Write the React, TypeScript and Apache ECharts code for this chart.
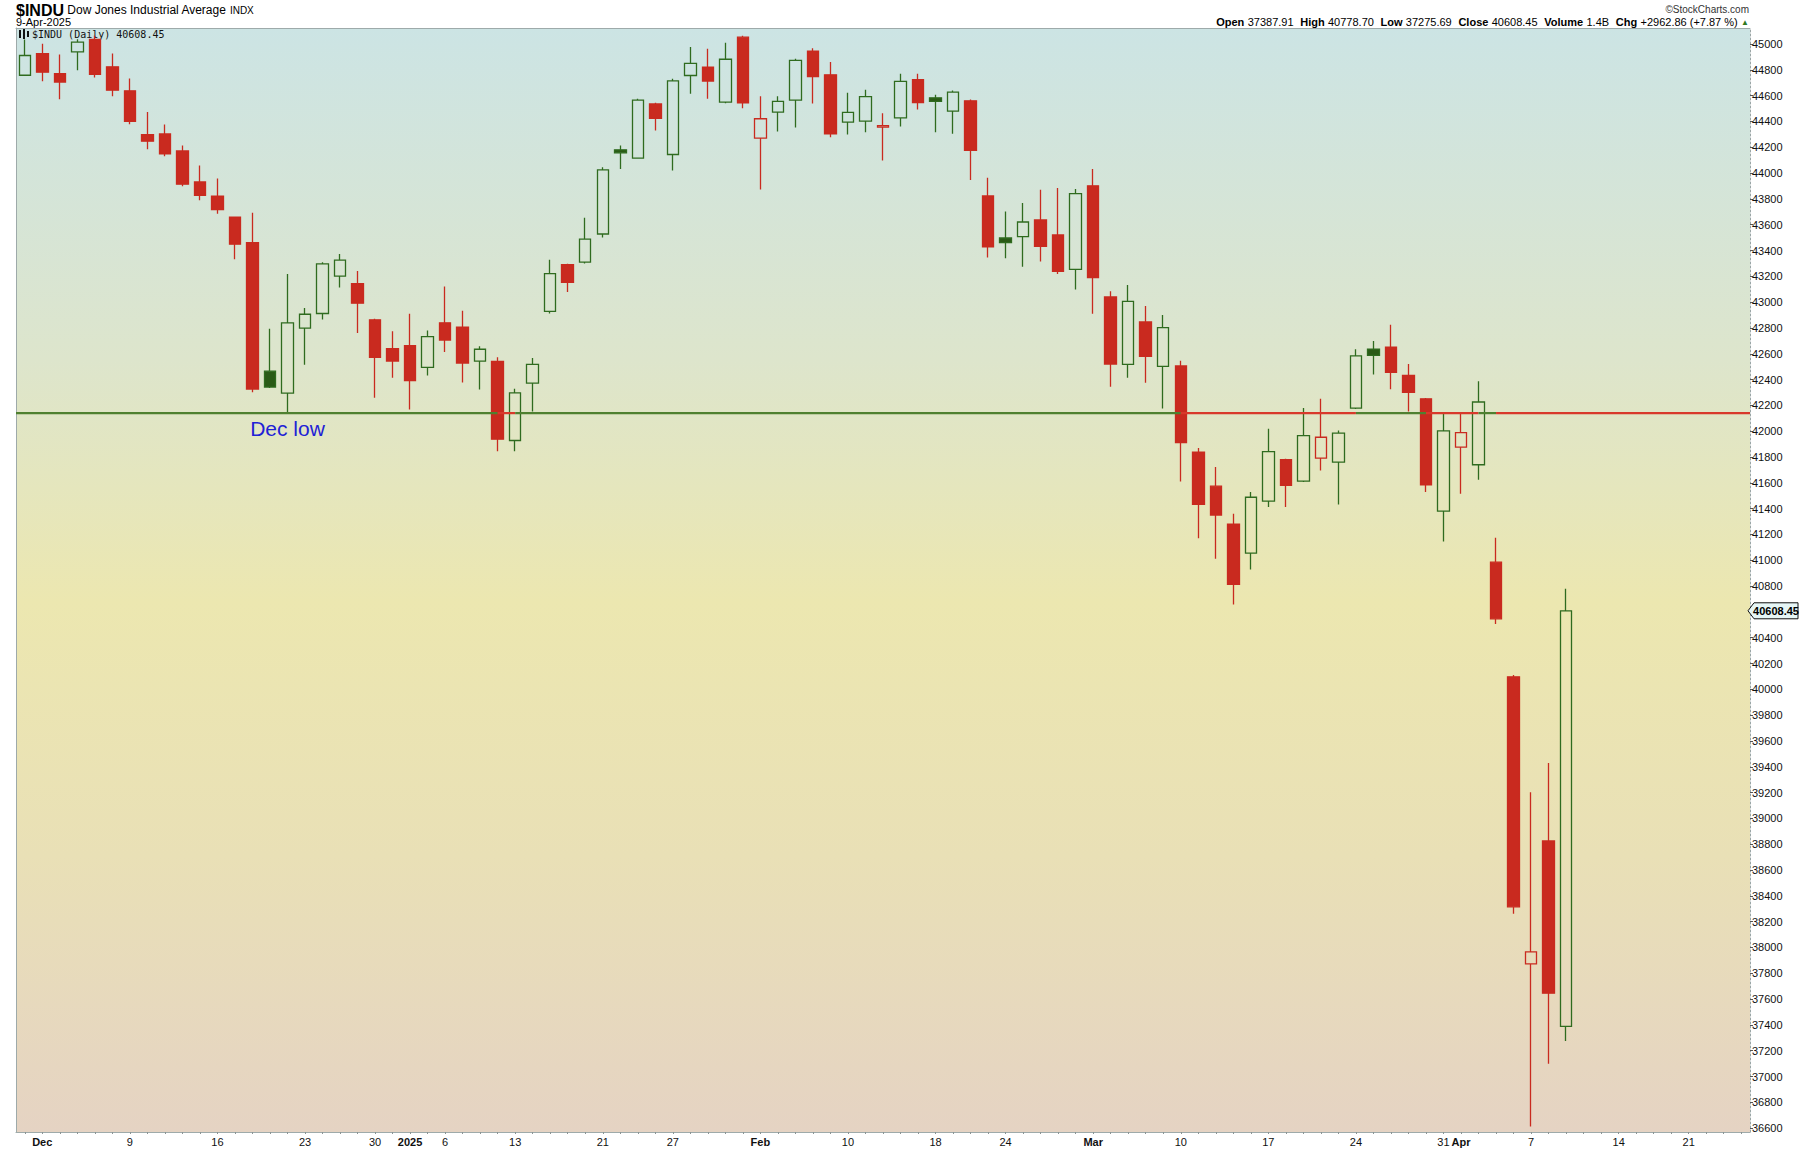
import React, { useEffect, useRef } from "react";
import * as echarts from "echarts";

// ---------- data ----------
const dates = [
  "2024-11-29",
  "2024-12-02","2024-12-03","2024-12-04","2024-12-05","2024-12-06",
  "2024-12-09","2024-12-10","2024-12-11","2024-12-12","2024-12-13",
  "2024-12-16","2024-12-17","2024-12-18","2024-12-19","2024-12-20",
  "2024-12-23","2024-12-24","2024-12-26","2024-12-27",
  "2024-12-30","2024-12-31","2025-01-02","2025-01-03",
  "2025-01-06","2025-01-07","2025-01-08","2025-01-10",
  "2025-01-13","2025-01-14","2025-01-15","2025-01-16","2025-01-17",
  "2025-01-21","2025-01-22","2025-01-23","2025-01-24",
  "2025-01-27","2025-01-28","2025-01-29","2025-01-30","2025-01-31",
  "2025-02-03","2025-02-04","2025-02-05","2025-02-06","2025-02-07",
  "2025-02-10","2025-02-11","2025-02-12","2025-02-13","2025-02-14",
  "2025-02-18","2025-02-19","2025-02-20","2025-02-21",
  "2025-02-24","2025-02-25","2025-02-26","2025-02-27","2025-02-28",
  "2025-03-03","2025-03-04","2025-03-05","2025-03-06","2025-03-07",
  "2025-03-10","2025-03-11","2025-03-12","2025-03-13","2025-03-14",
  "2025-03-17","2025-03-18","2025-03-19","2025-03-20","2025-03-21",
  "2025-03-24","2025-03-25","2025-03-26","2025-03-27","2025-03-28",
  "2025-03-31","2025-04-01","2025-04-02","2025-04-03","2025-04-04",
  "2025-04-07","2025-04-08","2025-04-09",
  "2025-04-10","2025-04-11","2025-04-14","2025-04-15","2025-04-16",
  "2025-04-17","2025-04-21","2025-04-22","2025-04-23","2025-04-24",
];

const opens = [
  44758, 44926, 44771, 44939, 45035, 44823, 44637, 44298, 44303, 44171,
  43931, 43822, 43659, 43461, 42465, 42295, 42799, 42912, 43202, 43143,
  42863, 42639, 42662, 42494, 42840, 42807, 42543, 42541, 41928, 42372,
  42928, 43290, 43310, 43528, 44180, 44115, 44536, 44144, 44756, 44821,
  44549, 45053, 44270, 44472, 44565, 44945, 44761, 44394, 44402, 44356,
  44428, 44723, 44583, 44480, 44560, 43823, 43497, 43508, 43637, 43520,
  43254, 43901, 43040, 42518, 42846, 42502, 42505, 41838, 41574, 41280,
  41055, 41458, 41779, 41613, 41791, 41760, 42179, 42636, 42652, 42432,
  42251, 41381, 41877, 41740, 40985, 40097, 37872, 38825, 37387.91,
];
const highs = [
  45035, 45002, 44918, 45037, 45066, 44926, 44732, 44474, 44376, 44213,
  44058, 43957, 43662, 43693, 42794, 43218, 42954, 43309, 43373, 43241,
  42872, 42775, 42910, 42781, 43122, 42933, 42659, 42572, 42328, 42567,
  43329, 43297, 43654, 44045, 44213, 44575, 44544, 44730, 44976, 44963,
  45009, 45064, 44596, 44596, 44885, 44968, 44860, 44622, 44645, 44464,
  44769, 44769, 44606, 44640, 44570, 43963, 43702, 43769, 43870, 43885,
  43877, 44032, 43084, 43133, 42970, 42900, 42546, 41869, 41722, 41360,
  41528, 42019, 41786, 42179, 42251, 42006, 42634, 42698, 42825, 42520,
  42257, 42135, 42135, 42386, 41174, 40110, 39202, 39430, 40778.70,
];
const lows = [
  44752, 44712, 44572, 44797, 44740, 44595, 44378, 44184, 44130, 43897,
  43789, 43685, 43332, 42302, 42334, 42140, 42514, 42866, 43114, 42760,
  42259, 42414, 42168, 42432, 42613, 42377, 42323, 41844, 41844, 42152,
  42912, 43078, 43300, 43500, 44032, 44110, 44330, 44020, 44614, 44575,
  44540, 44503, 43872, 44322, 44353, 44539, 44278, 44299, 44317, 44097,
  44361, 44492, 44317, 44304, 43947, 43345, 43340, 43275, 43314, 43218,
  43097, 42910, 42344, 42415, 42375, 42176, 41611, 41171, 41011, 40657,
  40928, 41412, 41412, 41607, 41696, 41432, 42172, 42440, 42324, 42153,
  41528, 41145, 41515, 41624, 40507, 38261, 36611.78, 37098, 37275.69,
];
const closes = [
  44911, 44782, 44705, 45014, 44765, 44642, 44401, 44247, 44148, 43914,
  43828, 43717, 43449, 42326, 42342, 42840, 42906, 43297, 43325, 42992,
  42573, 42544, 42392, 42732, 42706, 42528, 42635, 41938, 42297, 42518,
  43221, 43153, 43488, 44025, 44157, 44565, 44424, 44714, 44850, 44713,
  44882, 44545, 44421, 44556, 44873, 44747, 44303, 44470, 44593, 44368,
  44711, 44546, 44556, 44627, 44176, 43428, 43461, 43621, 43433, 43239,
  43841, 43191, 42520, 43006, 42579, 42802, 41911, 41433, 41350, 40813,
  41488, 41841, 41581, 41965, 41953, 41985, 42583, 42587, 42455, 42300,
  41584, 42002, 41989, 42226, 40546, 38315, 37966, 37646, 40608.45,
];
const closeBeforeFirst = 44722;
const decLow = 42140;
const lastClose = 40608.45;

const yTicks = [
  36600, 36800, 37000, 37200, 37400, 37600, 37800, 38000, 38200, 38400,
  38600, 38800, 39000, 39200, 39400, 39600, 39800, 40000, 40200, 40400,
  40600, 40800, 41000, 41200, 41400, 41600, 41800, 42000, 42200, 42400,
  42600, 42800, 43000, 43200, 43400, 43600, 43800, 44000, 44200, 44400,
  44600, 44800, 45000,
];
const xTickDates = [
  "2024-12-02","2024-12-09","2024-12-16","2024-12-23","2024-12-30",
  "2025-01-02","2025-01-06","2025-01-13","2025-01-21","2025-01-27",
  "2025-02-03","2025-02-10","2025-02-18","2025-02-24",
  "2025-03-03","2025-03-10","2025-03-17","2025-03-24","2025-03-31",
  "2025-04-01","2025-04-07","2025-04-14","2025-04-21",
];
const xTickTexts = [
  "Dec","9","16","23","30",
  "2025","6","13","21","27",
  "Feb","10","18","24",
  "Mar","10","17","24","31",
  "Apr","7","14","21",
];
const xTickBold = ["Dec", "2025", "Feb", "Mar", "Apr"];

// ---------- styling ----------
const RED = "#c92a1f";
const GREEN = "#2f6b1f";
const GREEN_FILL = "#2a5a16";
const LINE_GREEN = "#4f8030";
const LINE_RED = "#d8392b";
const BORDER = "#9eaaaa";
const NARROW = "'Liberation Sans Narrow', 'Liberation Sans', Arial, sans-serif";
const SANS = "'Liberation Sans', Arial, sans-serif";
const Y_MIN = 36570;
const Y_MAX = 45124;

export default function App() {
  const ref = useRef<HTMLDivElement>(null);

  useEffect(() => {
    if (!ref.current) return;
    const chart = echarts.init(ref.current, undefined, { renderer: "svg" });

    const candleData = closes.map((c, i) => {
      const prev = i === 0 ? closeBeforeFirst : closes[i - 1];
      const col = c >= prev ? GREEN : RED;
      const hollow = c > opens[i];
      const fill = hollow ? "rgba(0,0,0,0)" : col === GREEN ? GREEN_FILL : RED;
      return {
        value: [opens[i], c, lows[i], highs[i]],
        itemStyle: {
          color: fill,
          color0: fill,
          borderColor: col,
          borderColor0: col,
        },
      };
    });

    // level line segments coloured by whether the close is above the Dec low
    const segs: { from: number; to: number; green: boolean }[] = [];
    let start = -0.5;
    let cur = closes[0] > decLow;
    for (let i = 1; i < closes.length; i++) {
      const g = closes[i] > decLow;
      if (g !== cur) {
        segs.push({ from: start, to: i, green: cur });
        start = i;
        cur = g;
      }
    }
    segs.push({ from: start, to: dates.length - 0.5, green: cur });

    const lineSeries = segs.map((s) => ({
      type: "line",
      xAxisIndex: 1,
      yAxisIndex: 0,
      data: [
        [s.from, decLow],
        [s.to, decLow],
      ],
      symbol: "none",
      silent: true,
      z: 5,
      lineStyle: { color: s.green ? LINE_GREEN : LINE_RED, width: 2.2 },
    }));

    const tickMap: Record<string, string> = {};
    xTickDates.forEach((d, i) => (tickMap[d] = xTickTexts[i]));
    const yLabelValues = yTicks.filter((v) => Math.abs(v - lastClose) > 100);

    const header: any[] = [
      {
        type: "text",
        x: 16,
        y: 10,
        style: {
          text: "{a|$INDU} {b|Dow Jones Industrial Average} {c|INDX}",
          verticalAlign: "middle",
          rich: {
            a: { fontFamily: NARROW, fontSize: 16, fontWeight: "bold", fill: "#000" },
            b: { fontFamily: NARROW, fontSize: 12, fill: "#000" },
            c: { fontFamily: NARROW, fontSize: 10, fill: "#000" },
          },
        },
      },
      {
        type: "text",
        x: 16,
        y: 22,
        style: {
          text: "9-Apr-2025",
          fontFamily: NARROW,
          fontSize: 11,
          fill: "#000",
          verticalAlign: "middle",
        },
      },
      { type: "rect", shape: { x: 19, y: 30, width: 2, height: 8 }, style: { fill: "#111" } },
      { type: "rect", shape: { x: 23, y: 29, width: 2, height: 10 }, style: { fill: "#111" } },
      { type: "rect", shape: { x: 27, y: 31, width: 2, height: 6 }, style: { fill: "#111" } },
      {
        type: "text",
        x: 32,
        y: 34,
        style: {
          text: "$INDU (Daily) 40608.45",
          fontFamily: "'DejaVu Sans Mono', monospace",
          fontSize: 10,
          fill: "#111",
          verticalAlign: "middle",
        },
      },
      {
        type: "text",
        x: 1749,
        y: 9,
        style: {
          text: "©StockCharts.com",
          fontFamily: NARROW,
          fontSize: 10,
          fill: "#333",
          align: "right",
          verticalAlign: "middle",
        },
      },
      {
        type: "text",
        x: 1749,
        y: 22,
        style: {
          text:
            "{k|Open} {v|37387.91}  {k|High} {v|40778.70}  {k|Low} {v|37275.69}  {k|Close} {v|40608.45}  {k|Volume} {v|1.4B}  {k|Chg} {v|+2962.86 (+7.87 %)} {t|▲}",
          align: "right",
          verticalAlign: "middle",
          rich: {
            k: { fontFamily: NARROW, fontSize: 11, fontWeight: "bold", fill: "#000" },
            v: { fontFamily: NARROW, fontSize: 11, fill: "#000" },
            t: { fontFamily: SANS, fontSize: 8, fill: "#2f7a1f" },
          },
        },
      },
    ];

    const option: any = {
      animation: false,
      backgroundColor: "#ffffff",
      grid: {
        left: 16,
        top: 28,
        right: 50,
        bottom: 18,
        show: true,
        borderWidth: 0,
        backgroundColor: new echarts.graphic.LinearGradient(0, 0, 0, 1, [
          { offset: 0, color: "#cce4e4" },
          { offset: 0.3, color: "#dde5cc" },
          { offset: 0.52, color: "#ece7b0" },
          { offset: 0.75, color: "#e9e0b6" },
          { offset: 1, color: "#e5d3c3" },
        ]),
      },
      xAxis: [
        {
          type: "category",
          data: dates,
          boundaryGap: true,
          axisLine: { show: true, onZero: false, lineStyle: { color: BORDER } },
          axisTick: {
            show: true,
            interval: 0,
            alignWithLabel: true,
            length: 2,
            lineStyle: { color: "#8a9494" },
          },
          axisLabel: {
            interval: (_i: number, v: string) => v in tickMap,
            margin: 4,
            formatter: (v: string) => {
              const t = tickMap[v] || "";
              return xTickBold.includes(t) ? `{b|${t}}` : `{n|${t}}`;
            },
            rich: {
              b: { fontFamily: NARROW, fontSize: 11, fontWeight: "bold", color: "#111" },
              n: { fontFamily: NARROW, fontSize: 11, color: "#111" },
            },
          },
          splitLine: { show: false },
        },
        {
          type: "value",
          position: "top",
          min: -0.5,
          max: dates.length - 0.5,
          axisLine: { show: true, onZero: false, lineStyle: { color: BORDER } },
          axisTick: { show: false },
          axisLabel: { show: false },
          splitLine: { show: false },
        },
      ],
      yAxis: [
        {
          type: "value",
          position: "right",
          min: Y_MIN,
          max: Y_MAX,
          axisLine: {
            show: true,
            onZero: false,
            lineStyle: { color: "#9aa6a6", type: [2, 2] },
          },
          axisTick: {
            show: true,
            length: 3,
            customValues: yTicks,
            lineStyle: { color: "#555" },
          },
          axisLabel: {
            customValues: yLabelValues,
            margin: 2,
            fontFamily: SANS,
            fontSize: 11,
            color: "#111",
            formatter: (v: number) => String(v),
          },
          splitLine: { show: false },
        },
        {
          type: "value",
          position: "left",
          min: Y_MIN,
          max: Y_MAX,
          axisLine: { show: true, onZero: false, lineStyle: { color: BORDER } },
          axisTick: { show: false },
          axisLabel: { show: false },
          splitLine: { show: false },
        },
      ],
      series: [
        {
          type: "candlestick",
          xAxisIndex: 0,
          yAxisIndex: 0,
          data: candleData,
          barWidth: 12,
          z: 3,
          itemStyle: { borderWidth: 1.3 },
          markPoint: {
            silent: true,
            symbol: "rect",
            symbolSize: 1,
            itemStyle: { color: "rgba(0,0,0,0)" },
            label: {
              show: true,
              position: "bottom",
              distance: 4,
              formatter: "Dec low",
              fontFamily: SANS,
              fontSize: 21,
              color: "#1f22d6",
            },
            data: [{ coord: ["2024-12-20", decLow] }],
          },
        },
        ...lineSeries,
      ],
      graphic: header,
    };

    chart.setOption(option);

    // last-price tag placed through the y scale
    const ty = chart.convertToPixel({ yAxisIndex: 0 }, lastClose) as number;
    chart.setOption({
      graphic: [
        ...header,
        {
          type: "polygon",
          shape: {
            points: [
              [1748, ty],
              [1754, ty - 8],
              [1798, ty - 8],
              [1798, ty + 8],
              [1754, ty + 8],
            ],
          },
          style: { fill: "#e6f6f6", stroke: "#111", lineWidth: 1 },
          z: 10,
        },
        {
          type: "text",
          x: 1776,
          y: ty + 0.5,
          z: 11,
          style: {
            text: lastClose.toFixed(2),
            fontFamily: NARROW,
            fontSize: 11,
            fontWeight: "bold",
            fill: "#000",
            align: "center",
            verticalAlign: "middle",
          },
        },
      ],
    });

    return () => chart.dispose();
  }, []);

  return (
    <div
      ref={ref}
      style={{ position: "absolute", left: 0, top: 0, width: 1800, height: 1150 }}
    />
  );
}
